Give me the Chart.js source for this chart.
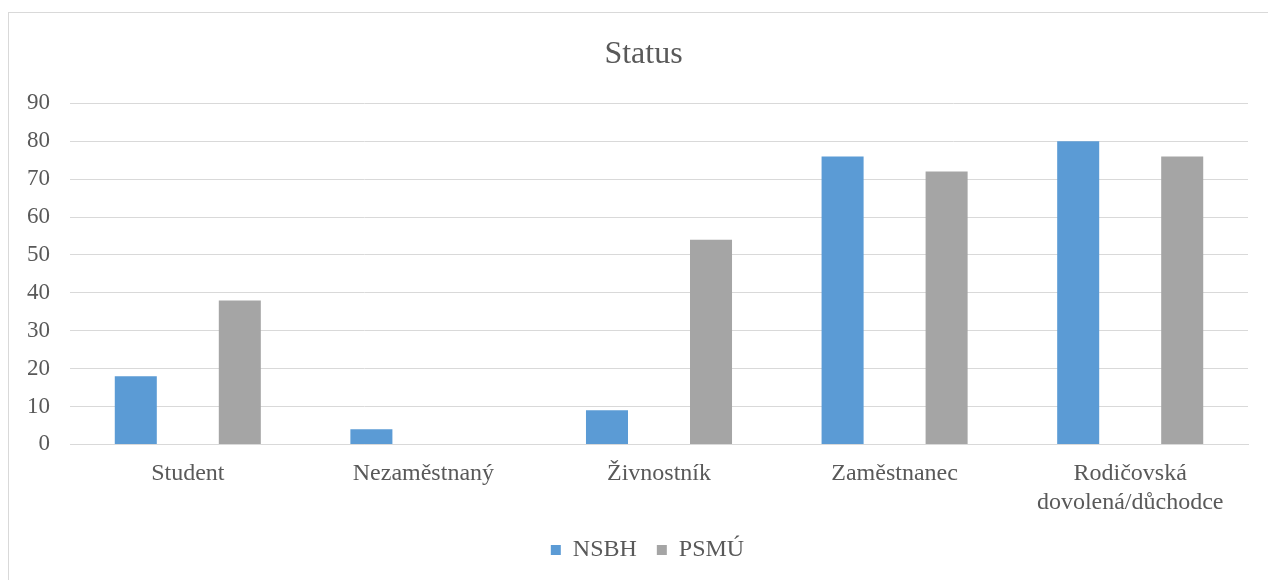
<!DOCTYPE html>
<html>
<head>
<meta charset="utf-8">
<script src="https://cdn.jsdelivr.net/npm/chart.js@4"></script>
<style>
  html, body { margin: 0; padding: 0; background: #fff; }
  #wrap { position: relative; width: 1268px; height: 580px; overflow: hidden; }
  #frame { position: absolute; left: 8px; top: 12px; width: 1300px; height: 600px; border: 1px solid #d9d9d9; box-sizing: border-box; }
  #myChart { position: absolute; left: 0; top: 0; }
</style>
</head>
<body>
<div id="wrap">
  <div id="frame"></div>
  <canvas id="myChart" width="1268" height="580"></canvas>
</div>
<script>
// data
var categories = ['Student', 'Nezaměstnaný', 'Živnostník', 'Zaměstnanec', ['Rodičovská', 'dovolená/důchodce']];
var nsbh = [18, 4, 9, 76, 80];
var psmu = [38, 0, 54, 72, 76];
var yTicks = [0, 10, 20, 30, 40, 50, 60, 70, 80, 90];

var textColor = '#595959';
var gridColor = '#d9d9d9';

// title and legend sit a bit right of the full-width centre in the original
var boxShift = {
    id: 'boxShift',
    afterLayout: function (chart) {
        if (chart.titleBlock) {
            chart.titleBlock.left += 16;
            chart.titleBlock.right += 16;
        }
        if (chart.legend) {
            chart.legend.left += 20;
            chart.legend.right += 20;
        }
    }
};

var ctx = document.getElementById('myChart');
var chart = new Chart(ctx, {
    type: 'bar',
    data: {
        labels: categories,
        datasets: [
            {
                label: 'NSBH',
                data: nsbh,
                backgroundColor: '#5b9bd5',
                categoryPercentage: 0.883,
                barPercentage: 0.404
            },
            {
                label: 'PSMÚ',
                data: psmu,
                backgroundColor: '#a5a5a5',
                categoryPercentage: 0.883,
                barPercentage: 0.404
            }
        ]
    },
    plugins: [boxShift],
    options: {
        responsive: false,
        animation: false,
        layout: { padding: { left: 7, right: 20, top: 0, bottom: 8 } },
        scales: {
            x: {
                grid: { display: false },
                border: { color: gridColor },
                afterFit: function (axis) { axis.height = 73.6; },
                ticks: {
                    color: textColor,
                    font: { family: 'Liberation Serif', size: 24 },
                    padding: 7,
                    maxRotation: 0,
                    autoSkip: false
                }
            },
            y: {
                min: 0,
                max: 90,
                afterBuildTicks: function (axis) {
                    axis.ticks = yTicks.map(function (v) { return { value: v }; });
                },
                grid: { color: gridColor, lineWidth: 1, drawTicks: false },
                border: { display: false },
                ticks: {
                    color: textColor,
                    font: { family: 'Liberation Serif', size: 23 },
                    padding: 20
                }
            }
        },
        plugins: {
            title: {
                display: true,
                text: 'Status',
                color: textColor,
                font: { family: 'Liberation Serif', size: 32, weight: 'normal' },
                padding: { top: 35, bottom: 30 }
            },
            legend: {
                position: 'bottom',
                labels: {
                    color: textColor,
                    font: { family: 'Liberation Serif', size: 24 },
                    boxWidth: 10,
                    boxHeight: 10,
                    padding: 20
                }
            },
            tooltip: { enabled: false }
        }
    }
});
</script>
</body>
</html>
